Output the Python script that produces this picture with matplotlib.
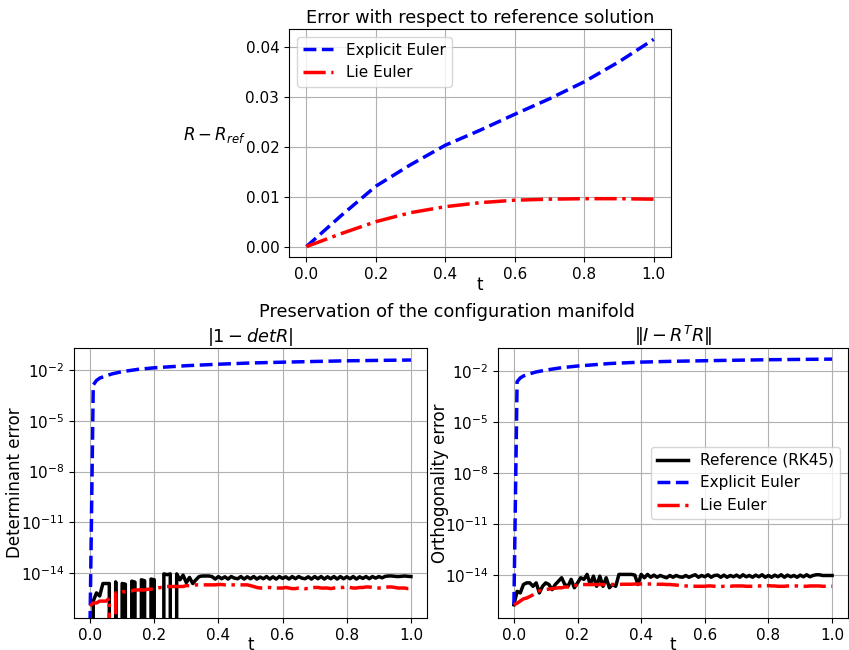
import numpy as np
import matplotlib
matplotlib.use("Agg")
import matplotlib.pyplot as plt

# ---------------- data ----------------
# top panel: error w.r.t. reference solution
t_top = [0.0, 0.1, 0.2, 0.3, 0.4, 0.5, 0.6, 0.7, 0.8, 0.9, 1.0]
err_explicit = [0.0, 0.0062, 0.0121, 0.0164, 0.0203, 0.0233, 0.0265, 0.0296, 0.0330, 0.0370, 0.0415]
err_lie = [0.0, 0.0026, 0.0050, 0.0068, 0.0080, 0.0088, 0.0093, 0.0095, 0.0096, 0.0096, 0.0095]

# bottom panels: time grid of the reference / Lie solutions (101 samples, dt = 0.01)
t_fine = np.linspace(0.0, 1.0, 101)

# explicit Euler manifold errors (coarser samples)
t_blue = [0.0, 0.01, 0.02, 0.03, 0.05, 0.07, 0.1, 0.15, 0.2, 0.3, 0.4, 0.5, 0.6, 0.7, 0.8, 0.9, 1.0]
det_explicit = [1e-17, 1.3e-3, 2.4e-3, 3.3e-3, 4.6e-3, 6.0e-3, 8.0e-3, 1.1e-2, 1.35e-2, 1.8e-2,
                2.2e-2, 2.6e-2, 2.9e-2, 3.2e-2, 3.5e-2, 3.7e-2, 3.9e-2]
orth_explicit = [1.8e-16, 2.4e-3, 4.0e-3, 5.2e-3, 7.0e-3, 9.0e-3, 1.15e-2, 1.6e-2, 2.0e-2, 2.8e-2,
                 3.4e-2, 3.8e-2, 4.1e-2, 4.4e-2, 4.7e-2, 4.9e-2, 5.1e-2]

det_ref = [0.0, 2.2e-16, 6.7e-16, 4.4e-16, 2.4e-15, 2.4e-15, 2.4e-15, 0.0, 3.0e-15, 0.0,
           2.4e-15, 2.2e-15, 0.0, 3.3e-15, 2.9e-15, 0.0, 4.0e-15, 3.5e-15, 0.0, 4.4e-15,
           4.0e-15, 0.0, 0.0, 8.9e-15, 8.0e-15, 8.9e-15, 0.0, 8.9e-15, 4.0e-15, 7.5e-15,
           2.7e-15, 5.5e-15, 2.4e-15, 4.0e-15, 6.2e-15, 6.7e-15, 6.7e-15, 6.7e-15, 6.2e-15, 4.4e-15,
           6.2e-15, 4.6e-15, 6.0e-15, 4.4e-15, 6.2e-15, 5.0e-15, 4.6e-15, 6.2e-15, 4.4e-15, 6.0e-15,
           4.6e-15, 6.2e-15, 4.4e-15, 5.8e-15, 4.6e-15, 6.2e-15, 4.4e-15, 6.0e-15, 4.4e-15, 6.2e-15,
           4.8e-15, 6.0e-15, 4.4e-15, 6.2e-15, 4.6e-15, 6.2e-15, 5.0e-15, 4.6e-15, 6.0e-15, 4.4e-15,
           6.2e-15, 4.6e-15, 6.2e-15, 4.4e-15, 6.0e-15, 4.6e-15, 6.2e-15, 4.4e-15, 6.2e-15, 4.6e-15,
           6.0e-15, 4.6e-15, 6.2e-15, 4.4e-15, 6.0e-15, 4.8e-15, 6.2e-15, 4.6e-15, 6.2e-15, 5.0e-15,
           6.2e-15, 5.2e-15, 6.4e-15, 6.7e-15, 6.7e-15, 6.4e-15, 6.2e-15, 6.4e-15, 6.7e-15, 6.4e-15,
           6.2e-15]
det_lie = [1.1e-16, 1.7e-16, 1.7e-16, 2.2e-16, 2.2e-16, 2.2e-16, 3.3e-16, 0.0, 6.7e-16, 6.7e-16,
           7.8e-16, 7.8e-16, 8.9e-16, 8.9e-16, 1.0e-15, 1.0e-15, 1.0e-15, 1.0e-15, 1.1e-15, 1.1e-15,
           1.3e-15, 1.3e-15, 1.4e-15, 1.4e-15, 1.6e-15, 1.6e-15, 1.6e-15, 1.6e-15, 1.6e-15, 1.6e-15,
           1.8e-15, 1.8e-15, 1.8e-15, 2.0e-15, 2.0e-15, 2.0e-15, 2.0e-15, 2.0e-15, 2.0e-15, 2.0e-15,
           2.1e-15, 2.1e-15, 2.0e-15, 2.0e-15, 2.0e-15, 2.0e-15, 2.0e-15, 2.0e-15, 2.0e-15, 2.0e-15,
           1.8e-15, 1.6e-15, 1.4e-15, 1.3e-15, 1.3e-15, 1.4e-15, 1.4e-15, 1.3e-15, 1.3e-15, 1.3e-15,
           1.3e-15, 1.4e-15, 1.3e-15, 1.2e-15, 1.2e-15, 1.3e-15, 1.3e-15, 1.2e-15, 1.2e-15, 1.3e-15,
           1.4e-15, 1.4e-15, 1.3e-15, 1.3e-15, 1.3e-15, 1.2e-15, 1.3e-15, 1.4e-15, 1.4e-15, 1.4e-15,
           1.5e-15, 1.4e-15, 1.3e-15, 1.3e-15, 1.4e-15, 1.4e-15, 1.5e-15, 1.5e-15, 1.4e-15, 1.4e-15,
           1.3e-15, 1.3e-15, 1.4e-15, 1.5e-15, 1.5e-15, 1.4e-15, 1.3e-15, 1.3e-15, 1.3e-15, 1.2e-15,
           1.2e-15]

orth_ref = [1.8e-16, 1.1e-15, 9.0e-16, 2.8e-15, 3.5e-15, 3.5e-15, 2.2e-15, 3.5e-15, 9.0e-16, 2.2e-15,
            3.5e-15, 2.8e-15, 1.4e-15, 2.8e-15, 4.4e-15, 7.0e-15, 2.8e-15, 2.2e-15, 5.6e-15, 1.8e-15,
            3.5e-15, 7.0e-15, 5.6e-15, 1.1e-14, 2.8e-15, 8.7e-15, 2.2e-15, 8.7e-15, 2.2e-15, 7.0e-15,
            1.8e-15, 2.8e-15, 2.2e-15, 1.1e-14, 1.1e-14, 1.1e-14, 1.1e-14, 1.1e-14, 1.0e-14, 2.8e-15,
            1.1e-14, 7.0e-15, 1.1e-14, 7.5e-15, 1.0e-14, 7.5e-15, 9.5e-15, 8.0e-15, 7.0e-15, 9.5e-15,
            7.5e-15, 9.5e-15, 8.0e-15, 7.5e-15, 9.5e-15, 7.5e-15, 9.0e-15, 1.05e-14, 7.5e-15, 9.5e-15,
            8.0e-15, 1.05e-14, 7.5e-15, 9.5e-15, 1.0e-14, 7.5e-15, 1.0e-14, 7.5e-15, 9.5e-15, 8.0e-15,
            1.0e-14, 7.5e-15, 1.05e-14, 8.0e-15, 9.5e-15, 7.5e-15, 1.0e-14, 8.0e-15, 1.05e-14, 7.5e-15,
            9.5e-15, 7.5e-15, 1.0e-14, 8.0e-15, 1.05e-14, 7.5e-15, 1.0e-14, 8.0e-15, 9.5e-15, 7.5e-15,
            1.0e-14, 8.0e-15, 1.05e-14, 8.0e-15, 9.5e-15, 1.05e-14, 1.05e-14, 9.5e-15, 9.5e-15, 9.5e-15,
            9.5e-15]
orth_lie = [1.8e-16, 2.2e-16, 3.0e-16, 4.0e-16, 4.5e-16, 5.5e-16, 7.0e-16, 1.0e-15, 1.2e-15, 1.3e-15,
            1.4e-15, 1.5e-15, 1.6e-15, 1.7e-15, 1.8e-15, 1.8e-15, 2.0e-15, 2.0e-15, 2.2e-15, 2.4e-15,
            2.6e-15, 2.8e-15, 2.8e-15, 2.8e-15, 2.8e-15, 2.8e-15, 2.8e-15, 2.8e-15, 2.8e-15, 2.8e-15,
            2.8e-15, 2.8e-15, 2.8e-15, 2.8e-15, 2.9e-15, 2.9e-15, 2.9e-15, 2.9e-15, 3.0e-15, 3.0e-15,
            3.0e-15, 3.0e-15, 3.0e-15, 3.0e-15, 3.0e-15, 2.9e-15, 2.9e-15, 2.9e-15, 2.8e-15, 2.8e-15,
            2.7e-15, 2.6e-15, 2.5e-15, 2.4e-15, 2.3e-15, 2.3e-15, 2.3e-15, 2.2e-15, 2.2e-15, 2.2e-15,
            2.2e-15, 2.3e-15, 2.3e-15, 2.2e-15, 2.1e-15, 2.1e-15, 2.2e-15, 2.2e-15, 2.2e-15, 2.3e-15,
            2.3e-15, 2.3e-15, 2.3e-15, 2.2e-15, 2.2e-15, 2.2e-15, 2.3e-15, 2.3e-15, 2.3e-15, 2.4e-15,
            2.4e-15, 2.3e-15, 2.3e-15, 2.2e-15, 2.2e-15, 2.2e-15, 2.3e-15, 2.3e-15, 2.3e-15, 2.3e-15,
            2.2e-15, 2.2e-15, 2.2e-15, 2.3e-15, 2.3e-15, 2.3e-15, 2.3e-15, 2.2e-15, 2.2e-15, 2.2e-15,
            2.2e-15]

# ---------------- figure ----------------
W, H = 849, 650
fig = plt.figure(figsize=(W / 100, H / 100), dpi=100)

def frac(l, t, r, b):
    return [l / W, 1 - b / H, (r - l) / W, (b - t) / H]

TICK = 11
LAB = 12
TIT = 12.8
LW = 2.5

# Top panel
ax0 = fig.add_axes(frac(289, 29, 671, 257))
ax0.plot(t_top, err_explicit, color='blue', ls='--', lw=LW, label='Explicit Euler')
ax0.plot(t_top, err_lie, color='red', ls='-.', lw=LW, label='Lie Euler')
ax0.set_title('Error with respect to reference solution', fontsize=TIT, pad=4)
ax0.set_xlabel('t', fontsize=LAB, va='center')
ax0.xaxis.set_label_coords(0.5, (257 - 285) / 228)
ax0.set_ylabel('$R-R_{ref}$', fontsize=LAB, rotation=0, ha='center', va='center')
ax0.yaxis.set_label_coords((215 - 289) / 382, (257 - 135) / 228)
ax0.legend(loc='upper left', fontsize=TICK)
ax0.grid(True)
ax0.tick_params(labelsize=TICK)

fig.text(447 / W, 1 - 312 / H, 'Preservation of the configuration manifold',
         ha='center', va='center', fontsize=TIT)

# Bottom left
ax1 = fig.add_axes(frac(74, 348, 427, 618))
ax1.semilogy(t_fine, det_ref, color='black', ls='-', lw=LW, label='Reference (RK45)')
ax1.semilogy(t_blue, det_explicit, color='blue', ls='--', lw=LW, label='Explicit Euler')
ax1.semilogy(t_fine, det_lie, color='red', ls='-.', lw=LW, label='Lie Euler')
ax1.set_ylim(2.2e-17, 0.2)
ax1.set_xlim(-0.05, 1.05)
ax1.set_title('$|1-detR|$', fontsize=TIT, pad=4)
ax1.set_xlabel('t', fontsize=LAB, va='center')
ax1.xaxis.set_label_coords(0.5, (618 - 645) / 270)
ax1.set_ylabel('Determinant error', fontsize=LAB, ha='center', va='center')
ax1.yaxis.set_label_coords((15 - 74) / 353, 0.5)
ax1.grid(True)
ax1.tick_params(labelsize=TICK)

# Bottom right
ax2 = fig.add_axes(frac(498, 348, 848, 618))
ax2.semilogy(t_fine, orth_ref, color='black', ls='-', lw=LW, label='Reference (RK45)')
ax2.semilogy(t_blue, orth_explicit, color='blue', ls='--', lw=LW, label='Explicit Euler')
ax2.semilogy(t_fine, orth_lie, color='red', ls='-.', lw=LW, label='Lie Euler')
ax2.set_ylim(3e-17, 0.23)
ax2.set_xlim(-0.05, 1.05)
ax2.set_title(r'$\|I-R^TR\|$', fontsize=TIT, pad=4)
ax2.set_xlabel('t', fontsize=LAB, va='center')
ax2.xaxis.set_label_coords(0.5, (618 - 645) / 270)
ax2.set_ylabel('Orthogonality error', fontsize=LAB, ha='center', va='center')
ax2.yaxis.set_label_coords((440 - 498) / 350, 0.5)
ax2.legend(loc='center right', fontsize=TICK)
ax2.grid(True)
ax2.tick_params(labelsize=TICK)

for ax in (ax1, ax2):
    ax.yaxis.set_major_locator(matplotlib.ticker.LogLocator(base=10, numticks=6))
    ax.yaxis.set_minor_locator(matplotlib.ticker.NullLocator())

fig.savefig('out.png', dpi=100)
